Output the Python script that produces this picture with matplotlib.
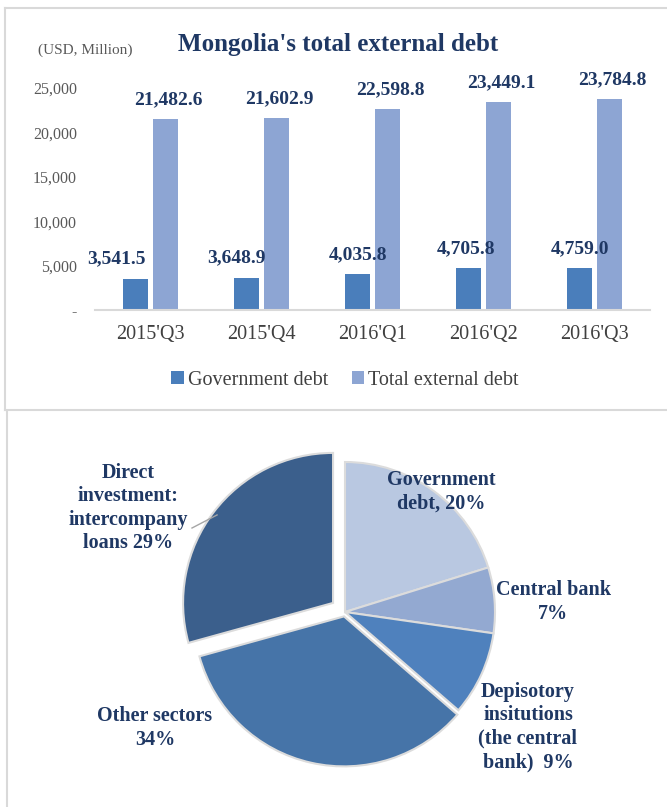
import matplotlib.pyplot as plt
import numpy as np
from matplotlib.lines import Line2D

plt.rcParams['font.family'] = ['Liberation Serif', 'DejaVu Serif']

# data
quarters = ["2015'Q3", "2015'Q4", "2016'Q1", "2016'Q2", "2016'Q3"]
gov_debt = [3541.5, 3648.9, 4035.8, 4705.8, 4759.0]
total_debt = [21482.6, 21602.9, 22598.8, 23449.1, 23784.8]

pie_labels = ['Government\ndebt, 20%', 'Central bank\n7%',
              'Depisotory\ninsitutions\n(the central\nbank)  9%',
              'Other sectors\n34%', 'Direct\ninvestment:\nintercompany\nloans 29%']
pie_values = [20, 7, 9, 34, 29]

navy = '#1F3864'
c_gov = '#4A7EBB'
c_tot = '#8DA5D3'

W, H = 667, 807
fig = plt.figure(figsize=(W / 100, H / 100), dpi=100)


def px_rect(x0, y0, x1, y1):
    # pixel box (top-left origin) -> figure fraction
    return [x0 / W, 1 - y1 / H, (x1 - x0) / W, (y1 - y0) / H]


# panel borders
border = '#D9D9D9'
for xs, ys in [((5, 667), (8, 8)), ((5, 5), (8, 410)), ((5, 667), (410, 410)),
               ((7, 7), (412, 807))]:
    fig.add_artist(Line2D([x / W for x in xs], [1 - y / H for y in ys],
                          color=border, lw=1.5))

# ---- bar chart
ax = fig.add_axes(px_rect(95, 88, 650, 310))
x = np.arange(len(quarters))
w = 0.22
b1 = ax.bar(x - 0.135, gov_debt, w, color=c_gov, label='Government debt')
b2 = ax.bar(x + 0.135, total_debt, w, color=c_tot, label='Total external debt')

ax.set_xlim(-0.5, 4.5)
ax.set_ylim(0, 25000)
ax.set_yticks(np.arange(0, 25001, 5000))
ax.set_yticklabels(['-'] + [f'{v:,}' for v in range(5000, 25001, 5000)],
                   color='#595959', fontsize=11.5)
ax.set_xticks(x)
ax.set_xticklabels(quarters, color='#404040', fontsize=14.5)
ax.tick_params(length=0)
ax.tick_params(axis='x', pad=11)
ax.tick_params(axis='y', pad=13)
for s in ['top', 'right', 'left']:
    ax.spines[s].set_visible(False)
ax.spines['bottom'].set_color('#D9D9D9')
ax.spines['bottom'].set_linewidth(1.5)

gov_dx = [-14, -7, 0, -2, 0]
for i, r in enumerate(b1):
    ax.annotate(f'{gov_debt[i]:,.1f}', (r.get_x() + r.get_width() / 2, r.get_height()),
                xytext=(gov_dx[i], 14), textcoords='offset points', ha='center',
                va='center', fontsize=14, fontweight='bold', color=navy)
for i, r in enumerate(b2):
    ax.annotate(f'{total_debt[i]:,.1f}', (r.get_x() + r.get_width() / 2, r.get_height()),
                xytext=(2, 14), textcoords='offset points', ha='center',
                va='center', fontsize=14, fontweight='bold', color=navy)

fig.text(178 / W, 1 - 45 / H, "Mongolia's total external debt", fontsize=18,
         fontweight='bold', color=navy, va='center')
fig.text(38 / W, 1 - 50 / H, '(USD, Million)', fontsize=11, color='#595959',
         va='center')

fig.legend(handles=[b1, b2], loc='center', bbox_to_anchor=(345 / W, 1 - 380 / H),
           ncol=2, frameon=False, fontsize=14.5, handlelength=0.6,
           handleheight=0.6, handletextpad=0.2, columnspacing=1.2,
           labelcolor='#404040')

# ---- pie chart
pax = fig.add_axes(px_rect(25, 424, 665, 800))
pie_colors = ['#B9C8E1', '#93A9D1', '#4F81BD', '#4674A8', '#3B5F8C']
pax.pie(pie_values, colors=pie_colors, startangle=90, counterclock=False,
        explode=[0, 0, 0, 0.03, 0.1], radius=1,
        wedgeprops=dict(edgecolor='#DCDCDC', linewidth=1.5))
pax.set_xlim(-320 / 150, 320 / 150)
pax.set_ylim(-188 / 150, 188 / 150)
pax.set_aspect('auto')
pax.axis('off')

label_xy = [(0.64, 0.8), (1.387, 0.067), (1.22, -0.767), (-1.267, -0.773),
            (-1.447, 0.693)]
for lab, (lx, ly) in zip(pie_labels, label_xy):
    pax.text(lx, ly, lab, ha='center', va='center', fontsize=14.5,
             fontweight='bold', color=navy, linespacing=1.22)
pax.plot([-1.02, -0.853], [0.56, 0.647], color='#A6A6A6', lw=1)

fig.savefig('out.png', dpi=100)
